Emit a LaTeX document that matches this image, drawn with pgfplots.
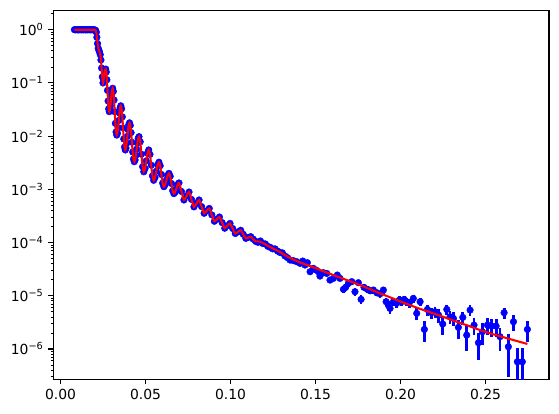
\documentclass[border=0pt]{standalone}
\usepackage{fontspec}
\setmainfont{DejaVu Sans}
\usepackage{pgfplots}
\usepackage{pgfplotstable}
\pgfplotsset{compat=1.18}
\pgfplotstableread{
q R dR F
0.0082 1.003 0.006 1.000
0.0088 0.995 0.006 1.000
0.0094 1.004 0.006 1.000
0.0100 0.998 0.006 1.000
0.0106 0.993 0.006 1.000
0.0112 1.002 0.006 1.000
0.0118 1.006 0.006 1.000
0.0124 0.996 0.006 1.000
0.0130 1.000 0.006 1.000
0.0136 0.997 0.006 1.000
0.0142 1.004 0.006 1.000
0.0148 0.995 0.006 1.000
0.0154 1.001 0.006 1.000
0.0160 0.998 0.006 1.000
0.0166 1.003 0.006 1.000
0.0172 0.999 0.006 1.000
0.0178 0.996 0.006 1.000
0.0184 1.002 0.006 1.000
0.0190 0.998 0.006 1.000
0.0196 1.000 0.006 0.999
0.0202 0.993 0.006 0.996
0.0207 0.970 0.008 0.975
0.0211 0.900 0.008 0.890
0.0214 0.720 0.008 0.730
0.0218 0.550 0.008 0.560
0.0222 0.450 0.007 0.455
0.0226 0.410 0.007 0.410
0.0230 0.380 0.006 0.380
0.0234 0.340 0.006 0.340
0.0238 0.270 0.005 0.270
0.0242 0.190 0.004 0.190
0.0246 0.130 0.003 0.130
0.0250 0.100 0.002 0.100
0.0254 0.115 0.002 0.115
0.0258 0.150 0.003 0.150
0.0262 0.174 0.003 0.174
0.0266 0.1820 0.0036 0.1820
0.02695 0.1607 0.0032 0.1607
0.0273 0.1148 0.0023 0.1148
0.02765 0.07244 0.0015 0.07244
0.0280 0.04571 0.0009 0.04571
0.02835 0.03266 0.0007 0.03266
0.0287 0.02884 0.0006 0.02884
0.02903 0.03083 0.0006 0.03083
0.02937 0.03715 0.0007 0.03715
0.0297 0.04786 0.0010 0.04786
0.03003 0.06166 0.0012 0.06166
0.03037 0.07430 0.0015 0.07430
0.0307 0.07943 0.0016 0.07943
0.0311 0.06934 0.0014 0.06934
0.0315 0.04786 0.0010 0.04786
0.0319 0.02884 0.0006 0.02884
0.0323 0.01738 0.0004 0.01738
0.0327 0.01199 0.0003 0.01199
0.0331 0.01047 0.0003 0.01047
0.0335 0.01140 0.0003 0.01140
0.0339 0.01436 0.0003 0.01436
0.0343 0.01972 0.0004 0.01972
0.0347 0.02704 0.0006 0.02704
0.0351 0.03412 0.0007 0.03412
0.0355 0.03715 0.0008 0.03715
0.03593 0.03266 0.0007 0.03266
0.03637 0.02301 0.0005 0.02301
0.0368 0.01429 0.0003 0.01429
0.03723 0.008851 0.0002 0.008851
0.03767 0.006252 0.00015 0.006252
0.0381 0.005495 0.00014 0.005495
0.03852 0.005943 0.00015 0.005943
0.03893 0.007362 0.00018 0.007362
0.03935 0.009886 0.00024 0.009886
0.03977 0.01324 0.0003 0.01324
0.04018 0.01644 0.0004 0.01644
0.0406 0.01778 0.0004 0.01778
0.04107 0.01589 0.0004 0.01589
0.04153 0.01167 0.0003 0.01167
0.0420 0.007674 0.0002 0.007674
0.04247 0.005035 0.00013 0.005035
0.04293 0.003707 0.0001 0.003707
0.0434 0.003311 0.00009 0.003311
0.04387 0.003556 0.00009 0.003556
0.04433 0.004335 0.00011 0.004335
0.0448 0.005689 0.00014 0.005689
0.04527 0.007447 0.00018 0.007447
0.04573 0.009099 0.00022 0.009099
0.0462 0.009772 0.00024 0.009772
0.0469 0.007834 0.0002 0.007834
0.0476 0.004571 0.00012 0.004571
0.0483 0.002667 0.00007 0.002667
0.0490 0.002138 0.00006 0.002138
0.04973 0.002455 0.00007 0.002455
0.05045 0.003428 0.00009 0.003428
0.05118 0.004786 0.00012 0.004786
0.0519 0.005495 0.00014 0.005495
0.05263 0.004539 0.00012 0.004539
0.05335 0.002851 0.00008 0.002851
0.05408 0.001791 0.00005 0.001791
0.0548 0.001479 0.00004 0.001479
0.05558 0.001660 0.00005 0.001660
0.05635 0.002188 0.00006 0.002188
0.05713 0.002884 0.00008 0.002884
0.0579 0.003236 0.00009 0.003236
0.05863 0.002773 0.00008 0.002773
0.05935 0.001905 0.00005 0.001905
0.06008 0.001309 0.00004 0.001309
0.0608 0.001122 0.00003 0.001122
0.06155 0.001222 0.00004 0.001222
0.0623 0.001496 0.00004 0.001496
0.06305 0.001832 0.00005 0.001832
0.0638 0.001995 0.00006 0.001995
0.06453 0.001758 0.00005 0.001758
0.06525 0.001288 0.00004 0.001288
0.06598 9.441e-4 3e-5 9.441e-4
0.0667 8.318e-4 3e-5 8.318e-4
0.06745 8.892e-4 3e-5 8.892e-4
0.0682 1.047e-3 3e-5 1.047e-3
0.06895 1.233e-3 4e-5 1.233e-3
0.0697 1.318e-3 4e-5 1.318e-3
0.07115 9.12e-4 3e-5 9.12e-4
0.0726 6.31e-4 2.5e-5 6.31e-4
0.0741 7.50e-4 3e-5 7.50e-4
0.0756 8.91e-4 3e-5 8.91e-4
0.07705 6.46e-4 2.5e-5 6.46e-4
0.0785 4.68e-4 2e-5 4.68e-4
0.0800 5.43e-4 2e-5 5.43e-4
0.0815 6.31e-4 2.5e-5 6.31e-4
0.0830 4.73e-4 2e-5 4.73e-4
0.0845 3.55e-4 1.5e-5 3.55e-4
0.0860 3.94e-4 1.6e-5 3.94e-4
0.0875 4.37e-4 1.8e-5 4.37e-4
0.0890 3.31e-4 1.4e-5 3.31e-4
0.0905 2.51e-4 1.1e-5 2.51e-4
0.0920 2.75e-4 1.2e-5 2.75e-4
0.0935 3.02e-4 1.3e-5 3.02e-4
0.09505 2.37e-4 1.1e-5 2.37e-4
0.0966 1.86e-4 9e-6 1.86e-4
0.09815 2.07e-4 1e-5 2.07e-4
0.0997 2.29e-4 1.1e-5 2.29e-4
0.10125 1.84e-4 9e-6 1.84e-4
0.1028 1.48e-4 8e-6 1.48e-4
0.1044 1.59e-4 8e-6 1.59e-4
0.1060 1.70e-4 9e-6 1.70e-4
0.1075 1.43e-4 8e-6 1.43e-4
0.1090 1.20e-4 7e-6 1.20e-4
0.11045 1.25e-4 7e-6 1.25e-4
0.1119 1.29e-4 7e-6 1.29e-4
0.11335 1.16e-4 7e-6 1.16e-4
0.1148 1.05e-4 6e-6 1.05e-4
0.1162 1.01e-4 6e-6 1.05e-4
0.1176 1.07e-4 6e-6 1.04e-4
0.1190 9.60e-5 6e-6 9.77e-5
0.1205 9.40e-5 6e-6 9.23e-5
0.1219 8.50e-5 5e-6 8.71e-5
0.1234 8.10e-5 5e-6 8.22e-5
0.1248 7.60e-5 5e-6 7.82e-5
0.1262 7.60e-5 5e-6 7.41e-5
0.1277 6.90e-5 4e-6 7.05e-5
0.1291 6.50e-5 4e-6 6.68e-5
0.1305 6.40e-5 4e-6 6.24e-5
0.1320 5.60e-5 4e-6 5.82e-5
0.1335 5.20e-5 4e-6 5.47e-5
0.1350 4.69e-5 3.5e-6 5.13e-5
0.1370 4.56e-5 3.5e-6 4.79e-5
0.1389 4.37e-5 3.4e-6 4.52e-5
0.1409 4.06e-5 3.3e-6 4.23e-5
0.1425 4.49e-5 3.5e-6 4.06e-5
0.1438 3.78e-5 3.2e-6 3.91e-5
0.1452 4.18e-5 3.4e-6 3.77e-5
0.1468 2.83e-5 2.8e-6 3.61e-5
0.1487 3.27e-5 3.0e-6 3.43e-5
0.1503 3.04e-5 2.9e-6 3.28e-5
0.1517 2.83e-5 2.8e-6 3.15e-5
0.1526 2.34e-5 2.6e-6 3.06e-5
0.1546 2.71e-5 2.7e-6 2.88e-5
0.1566 2.63e-5 2.7e-6 2.73e-5
0.1585 1.97e-5 2.3e-6 2.59e-5
0.1605 2.12e-5 2.4e-6 2.45e-5
0.1628 2.45e-5 2.6e-6 2.30e-5
0.1644 2.12e-5 2.4e-6 2.20e-5
0.1664 1.32e-5 2.0e-6 2.08e-5
0.1677 1.44e-5 2.0e-6 2.01e-5
0.1693 1.71e-5 2.2e-6 1.92e-5
0.1713 1.84e-5 2.2e-6 1.82e-5
0.1732 1.19e-5 1.9e-6 1.73e-5
0.1752 1.76e-5 2.2e-6 1.63e-5
0.1768 8.55e-6 1.6e-6 1.56e-5
0.1785 1.44e-5 2.0e-6 1.48e-5
0.1805 1.32e-5 1.9e-6 1.39e-5
0.1821 1.24e-5 1.8e-6 1.33e-5
0.1840 1.28e-5 1.8e-6 1.25e-5
0.1860 1.14e-5 1.7e-6 1.18e-5
0.1879 1.08e-5 1.7e-6 1.11e-5
0.1899 1.28e-5 1.8e-6 1.05e-5
0.1915 7.73e-6 1.4e-6 1.00e-5
0.1928 6.68e-6 1.3e-6 9.64e-6
0.1938 5.78e-6 1.3e-6 9.35e-6
0.1958 7.73e-6 1.4e-6 8.81e-6
0.1977 7.19e-6 1.4e-6 8.32e-6
0.1993 8.30e-6 1.4e-6 7.94e-6
0.2007 7.73e-6 1.4e-6 7.62e-6
0.2021 8.55e-6 1.5e-6 7.33e-6
0.2036 7.73e-6 1.4e-6 7.03e-6
0.2052 7.40e-6 1.4e-6 6.73e-6
0.2075 8.91e-6 1.5e-6 6.31e-6
0.2095 4.67e-6 1.2e-6 5.97e-6
0.2115 7.73e-6 1.4e-6 5.66e-6
0.2140 2.33e-6 1.0e-6 5.32e-6
0.2158 5.53e-6 1.3e-6 5.08e-6
0.2183 4.80e-6 1.2e-6 4.78e-6
0.2203 5.01e-6 1.2e-6 4.54e-6
0.2223 4.34e-6 1.2e-6 4.32e-6
0.2248 2.94e-6 1.1e-6 4.05e-6
0.2272 5.53e-6 1.2e-6 3.79e-6
0.2291 4.04e-6 1.1e-6 3.60e-6
0.2311 3.75e-6 1.1e-6 3.41e-6
0.2340 2.54e-6 1.0e-6 3.17e-6
0.2366 3.92e-6 1.1e-6 2.96e-6
0.2389 1.82e-6 0.9e-6 2.80e-6
0.2409 5.38e-6 1.2e-6 2.65e-6
0.2432 2.81e-6 1.0e-6 2.49e-6
0.2458 1.31e-6 0.7e-6 2.32e-6
0.2481 2.11e-6 0.9e-6 2.19e-6
0.2511 2.81e-6 1.0e-6 2.04e-6
0.2536 2.69e-6 1.0e-6 1.92e-6
0.2562 2.69e-6 1.0e-6 1.82e-6
0.2585 1.70e-6 0.8e-6 1.73e-6
0.2609 4.80e-6 1.1e-6 1.65e-6
0.2634 1.10e-6 0.8e-6 1.56e-6
0.2664 3.25e-6 1.1e-6 1.47e-6
0.2687 5.75e-7 4.5e-7 1.40e-6
0.2716 5.75e-7 4.5e-7 1.32e-6
0.2746 2.33e-6 1.0e-6 1.24e-6
}\refl
\begin{document}
\begin{tikzpicture}
\begin{axis}[
  scale only axis, width=356.9pt, height=265.4pt,
  ymode=log,
  xmin=-0.0042, xmax=0.2873, ymin=2.69e-7, ymax=2.28,
  clip marker paths=true,
  axis line style={line width=0.8pt},
  tick align=outside, xtick pos=left, ytick pos=left,
  major tick length=3.5pt, minor tick length=2pt,
  major tick style={line width=0.8pt, black},
  minor tick style={line width=0.6pt, black},
  xtick={0,0.05,0.1,0.15,0.2,0.25},
  xticklabels={0.00,0.05,0.10,0.15,0.20,0.25},
  ytick={1e-6,1e-5,1e-4,1e-3,1e-2,1e-1,1},
  yticklabels={10\textsuperscript{−6},10\textsuperscript{−5},10\textsuperscript{−4},10\textsuperscript{−3},10\textsuperscript{−2},10\textsuperscript{−1},10\textsuperscript{0}},
  minor ytick={3e-7,4e-7,5e-7,6e-7,7e-7,8e-7,9e-7,
    2e-6,3e-6,4e-6,5e-6,6e-6,7e-6,8e-6,9e-6,
    2e-5,3e-5,4e-5,5e-5,6e-5,7e-5,8e-5,9e-5,
    2e-4,3e-4,4e-4,5e-4,6e-4,7e-4,8e-4,9e-4,
    2e-3,3e-3,4e-3,5e-3,6e-3,7e-3,8e-3,9e-3,
    2e-2,3e-2,4e-2,5e-2,6e-2,7e-2,8e-2,9e-2,
    0.2,0.3,0.4,0.5,0.6,0.7,0.8,0.9,2},
  tick label style={font=\fontsize{10}{12}\selectfont},
]
\addplot[blue, only marks, mark=*, mark size=2.4pt,
  mark options={fill=blue, draw=blue, line width=0.3pt},
  error bars/.cd, y dir=both, y explicit, error mark=none,
  error bar style={line width=2pt, blue}]
  table[x=q, y=R, y error=dR]{\refl};
\addplot[red, line width=1.5pt, smooth, no markers] table[x=q, y=F]{\refl};
\end{axis}
\path ([shift={(-38.4pt,-24.3pt)}]current axis.south west) rectangle ([shift={(7.2pt,7.7pt)}]current axis.north east);
\end{tikzpicture}
\end{document}
